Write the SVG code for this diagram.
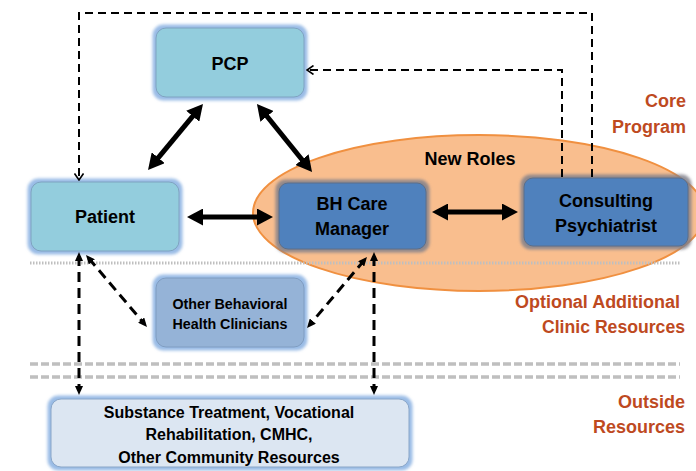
<svg xmlns="http://www.w3.org/2000/svg" width="696" height="471" viewBox="0 0 696 471">
<defs>
<style>
.t{font-family:"Liberation Sans",Arial,sans-serif;font-weight:bold;fill:#000;text-anchor:middle}
.lab{font-family:"Liberation Sans",Arial,sans-serif;font-weight:bold;fill:#BE4A1F;text-anchor:end;font-size:18px}
.light{fill:#93CDDD;stroke:#7FA3C0;stroke-width:1}
.dark{fill:#4F81BD;stroke:#5A6E8A;stroke-width:1}
.mid{fill:#95B3D7;stroke:#7F9CC0;stroke-width:1}
.pale{fill:#DCE6F2;stroke:#8AA6C8;stroke-width:1}
.thick{stroke:#000;stroke-width:5;fill:none}
.dash1{stroke:#000;stroke-width:2;fill:none;stroke-dasharray:8 5}
.dash2{stroke:#000;stroke-width:3;fill:none;stroke-dasharray:10 6}
</style>
<filter id="blueGlow" x="-20%" y="-20%" width="140%" height="140%">
<feMorphology in="SourceAlpha" operator="dilate" radius="3" result="d"/>
<feGaussianBlur in="d" stdDeviation="1.5" result="b"/>
<feFlood flood-color="#8EB4E3" flood-opacity="0.9"/>
<feComposite in2="b" operator="in" result="g"/>
<feMerge><feMergeNode in="g"/><feMergeNode in="SourceGraphic"/></feMerge>
</filter>
<filter id="grayGlow" x="-20%" y="-20%" width="140%" height="140%">
<feMorphology in="SourceAlpha" operator="dilate" radius="3" result="d"/>
<feGaussianBlur in="d" stdDeviation="1.5" result="b"/>
<feFlood flood-color="#7F7F8A" flood-opacity="0.85"/>
<feComposite in2="b" operator="in" result="g"/>
<feMerge><feMergeNode in="g"/><feMergeNode in="SourceGraphic"/></feMerge>
</filter>
<marker id="big" viewBox="0 0 16 17" markerWidth="16" markerHeight="17" refX="4" refY="8.5" markerUnits="userSpaceOnUse" orient="auto-start-reverse">
<path d="M0,0 L16,8.5 L0,17 z" fill="#000"/>
</marker>
<marker id="small" viewBox="0 0 9 8" markerWidth="9" markerHeight="8" refX="5" refY="4" markerUnits="userSpaceOnUse" orient="auto-start-reverse">
<path d="M0,0 L9,4 L0,8 z" fill="#000"/>
</marker>
<marker id="chev" viewBox="0 0 8 10" markerWidth="8" markerHeight="10" refX="7" refY="5" markerUnits="userSpaceOnUse" orient="auto">
<path d="M0.5,0.5 L7,5 L0.5,9.5" fill="none" stroke="#000" stroke-width="1.6"/>
</marker>
</defs>
<rect width="696" height="471" fill="#fff"/>

<g id="new-roles">
<ellipse cx="479" cy="213" rx="226" ry="78" fill="#F9BE8E" stroke="#F09040" stroke-width="2"/>
<text class="t" x="470" y="165" font-size="18">New Roles</text>
</g>

<g id="dividers">
<line x1="30" y1="263" x2="680" y2="263" stroke="#BFBFBF" stroke-width="3" stroke-dasharray="1.5 1.5"/>
<line x1="30" y1="364" x2="680" y2="364" stroke="#BFBFBF" stroke-width="3.5" stroke-dasharray="8 3"/>
<line x1="30" y1="377" x2="680" y2="377" stroke="#BFBFBF" stroke-width="3.5" stroke-dasharray="8 3"/>
</g>

<g id="labels">
<text class="lab" x="686" y="107">Core</text>
<text class="lab" x="686" y="133">Program</text>
<text class="lab" x="680" y="308" textLength="165" lengthAdjust="spacingAndGlyphs">Optional Additional</text>
<text class="lab" x="685" y="333" textLength="143" lengthAdjust="spacingAndGlyphs">Clinic Resources</text>
<text class="lab" x="685" y="408">Outside</text>
<text class="lab" x="685" y="433">Resources</text>
</g>

<g id="pcp">
<rect class="light" x="156" y="28" width="148" height="69" rx="10" filter="url(#blueGlow)"/>
<text class="t" x="230" y="70" font-size="18">PCP</text>
</g>

<g id="patient">
<rect class="light" x="31" y="182" width="148" height="69" rx="10" filter="url(#blueGlow)"/>
<text class="t" x="105" y="223" font-size="18">Patient</text>
</g>

<g id="bh-care-manager">
<rect class="dark" x="279" y="183" width="147" height="66" rx="9" filter="url(#grayGlow)"/>
<text class="t" x="352" y="210" font-size="18">BH Care</text>
<text class="t" x="352" y="235" font-size="18">Manager</text>
</g>

<g id="consulting-psychiatrist">
<rect class="dark" x="524" y="178" width="164" height="68" rx="9" filter="url(#grayGlow)"/>
<text class="t" x="606" y="207" font-size="18">Consulting</text>
<text class="t" x="606" y="232" font-size="18">Psychiatrist</text>
</g>

<g id="other-bh-clinicians">
<rect class="mid" x="156" y="278" width="148" height="69" rx="10" filter="url(#blueGlow)"/>
<text class="t" x="230" y="309" font-size="14.5" textLength="115" lengthAdjust="spacingAndGlyphs">Other Behavioral</text>
<text class="t" x="230" y="329" font-size="14.5" textLength="115" lengthAdjust="spacingAndGlyphs">Health Clinicians</text>
</g>

<g id="community-resources">
<rect class="pale" x="51" y="399" width="358" height="68" rx="10" filter="url(#blueGlow)"/>
<text class="t" x="229" y="418" font-size="16">Substance Treatment, Vocational</text>
<text class="t" x="229" y="440" font-size="16">Rehabilitation, CMHC,</text>
<text class="t" x="229" y="463" font-size="16">Other Community Resources</text>
</g>

<g id="connectors">
<path class="dash1" d="M592,177 L592,13 L79,13 L79,180" marker-end="url(#chev)"/>
<path class="dash1" d="M562,177 L562,70 L307,70" marker-end="url(#chev)"/>
<line class="thick" x1="195.3" y1="113.2" x2="155.7" y2="160.8" marker-start="url(#big)" marker-end="url(#big)"/>
<line class="thick" x1="264.5" y1="113.3" x2="304.5" y2="162.7" marker-start="url(#big)" marker-end="url(#big)"/>
<line class="thick" x1="199" y1="217" x2="261" y2="217" marker-start="url(#big)" marker-end="url(#big)"/>
<line class="thick" x1="444" y1="212" x2="506" y2="212" marker-start="url(#big)" marker-end="url(#big)"/>
<line class="dash2" x1="79" y1="256" x2="79" y2="391" marker-start="url(#small)" marker-end="url(#small)"/>
<line class="dash2" x1="374" y1="256" x2="374" y2="391" marker-start="url(#small)" marker-end="url(#small)"/>
<line class="dash2" x1="88.6" y1="258.1" x2="144.4" y2="323.9" marker-start="url(#small)" marker-end="url(#small)"/>
<line class="dash2" x1="364.4" y1="260.1" x2="309.6" y2="324.9" marker-start="url(#small)" marker-end="url(#small)"/>
</g>
</svg>
